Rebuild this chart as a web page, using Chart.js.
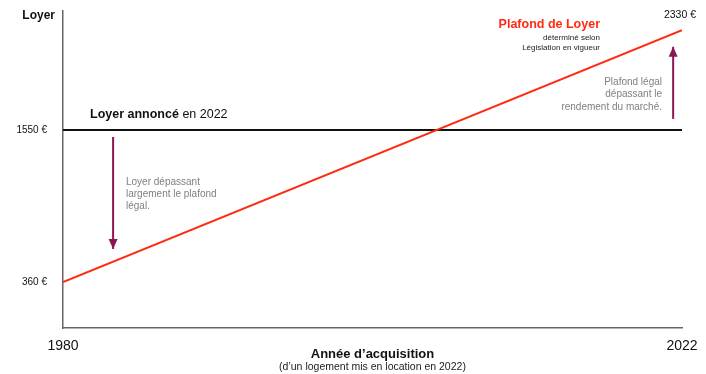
<!DOCTYPE html>
<html>
<head>
<meta charset="utf-8">
<script src="https://cdn.jsdelivr.net/npm/chart.js@4/dist/chart.umd.min.js"></script>
<style>
  html, body { margin: 0; padding: 0; background: #fff; }
  #wrap { width: 706px; height: 374px; }
</style>
</head>
<body>
<div id="wrap"><canvas id="c"></canvas></div>
<script>
// loyer vs plafond, 1980 -> 2022
const years = [1980, 2022];
const plafond = [360, 2330];       // plafond de loyer (legal cap)
const loyerAnnonce = [1550, 1550]; // loyer annoncé en 2022
const yTicks = [360, 1550];
const xTicks = [1980, 2022];

// arrows: [year, from, to]
const arrowDown = [1983.4, 1495, 618];
const arrowUp = [2021.4, 1636, 2200];

const FONT = "'Liberation Sans', Arial, Helvetica, sans-serif";
const RED = "#ff2a12";
const PURPLE = "#8a1656";
const GREY = "#808080";

const pts = (xs, ys) => xs.map((x, i) => ({ x, y: ys[i] }));

// arrowheads on datasets flagged with arrow: true
const arrowHeads = {
  id: "arrowHeads",
  afterDatasetsDraw(chart) {
    const ctx = chart.ctx;
    chart.data.datasets.forEach((ds, i) => {
      if (!ds.arrow) return;
      const m = chart.getDatasetMeta(i).data;
      const a = m[m.length - 2], b = m[m.length - 1];
      const ang = Math.atan2(b.y - a.y, b.x - a.x);
      const len = 10, half = 4.5;
      ctx.save();
      ctx.fillStyle = ds.borderColor;
      ctx.translate(b.x, b.y);
      ctx.rotate(ang);
      ctx.beginPath();
      ctx.moveTo(0, 0);
      ctx.lineTo(-len, -half);
      ctx.lineTo(-len, half);
      ctx.closePath();
      ctx.fill();
      ctx.restore();
    });
  }
};

function txt(ctx, s, x, y, font, color, align) {
  ctx.font = font;
  ctx.fillStyle = color;
  ctx.textAlign = align || "left";
  ctx.textBaseline = "middle";
  ctx.fillText(s, x, y);
}

const labels = {
  id: "labels",
  afterDraw(chart) {
    const ctx = chart.ctx;
    const area = chart.chartArea;
    ctx.save();

    txt(ctx, "Loyer", 55, 16, "bold 12px " + FONT, "#111", "right");

    // mixed bold/regular
    ctx.font = "bold 12.5px " + FONT;
    const w = ctx.measureText("Loyer annoncé").width;
    txt(ctx, "Loyer annoncé", 90, 115, "bold 12.5px " + FONT, "#111");
    txt(ctx, " en 2022", 90 + w, 115, "12.5px " + FONT, "#111");

    txt(ctx, "Plafond de Loyer", 600, 25, "bold 12.5px " + FONT, RED, "right");
    txt(ctx, "déterminé selon", 600, 38, "8px " + FONT, "#222", "right");
    txt(ctx, "Législation en vigueur", 600, 48, "8px " + FONT, "#222", "right");

    txt(ctx, "2330 €", 696, 15, "10.5px " + FONT, "#111", "right");

    txt(ctx, "Plafond légal", 662, 82, "10px " + FONT, GREY, "right");
    txt(ctx, "dépassant le", 662, 94.5, "10px " + FONT, GREY, "right");
    txt(ctx, "rendement du marché.", 662, 107, "10px " + FONT, GREY, "right");

    txt(ctx, "Loyer dépassant", 126, 182, "10px " + FONT, GREY);
    txt(ctx, "largement le plafond", 126, 194, "10px " + FONT, GREY);
    txt(ctx, "légal.", 126, 206.5, "10px " + FONT, GREY);

    const cx = (area.left + area.right) / 2;
    txt(ctx, "Année d’acquisition", cx, 354, "bold 13px " + FONT, "#111", "center");
    txt(ctx, "(d’un logement mis en location en 2022)", cx, 367, "10.5px " + FONT, "#222", "center");
    ctx.restore();
  }
};

new Chart(document.getElementById("c"), {
  type: "line",
  data: {
    datasets: [
      {
        data: pts(years, plafond),
        borderColor: RED,
        borderWidth: 2,
        pointRadius: 0
      },
      {
        data: pts(years, loyerAnnonce),
        borderColor: "#111",
        borderWidth: 2,
        pointRadius: 0
      },
      {
        data: [{ x: arrowDown[0], y: arrowDown[1] }, { x: arrowDown[0], y: arrowDown[2] }],
        borderColor: PURPLE,
        borderWidth: 2,
        pointRadius: 0,
        arrow: true
      },
      {
        data: [{ x: arrowUp[0], y: arrowUp[1] }, { x: arrowUp[0], y: arrowUp[2] }],
        borderColor: PURPLE,
        borderWidth: 2,
        pointRadius: 0,
        arrow: true
      }
    ]
  },
  options: {
    responsive: true,
    maintainAspectRatio: false,
    animation: false,
    layout: { padding: { top: 11, right: 24, left: 0, bottom: 0 } },
    plugins: { legend: { display: false }, tooltip: { enabled: false } },
    scales: {
      x: {
        type: "linear",
        min: 1980,
        max: 2022,
        grid: { display: false },
        border: { color: "#666", width: 1.5 },
        afterBuildTicks: s => { s.ticks = xTicks.map(v => ({ value: v })); },
        afterFit: s => { s.height = 46; s.paddingLeft = 0; s.paddingRight = 0; },
        ticks: {
          padding: 2,
          color: "#111",
          font: { family: FONT, size: 14 },
          maxRotation: 0,
          autoSkip: false,
          callback: v => String(v)
        }
      },
      y: {
        min: 0,
        max: 2480,
        grid: { display: false },
        border: { color: "#666", width: 1.5 },
        afterBuildTicks: s => { s.ticks = yTicks.map(v => ({ value: v })); },
        afterFit: s => { s.width = 63; s.paddingTop = 0; s.paddingBottom = 0; },
        ticks: {
          padding: 8,
          color: "#111",
          font: { family: FONT, size: 10 },
          callback: v => v + " €"
        }
      }
    }
  },
  plugins: [arrowHeads, labels]
});
</script>
</body>
</html>
